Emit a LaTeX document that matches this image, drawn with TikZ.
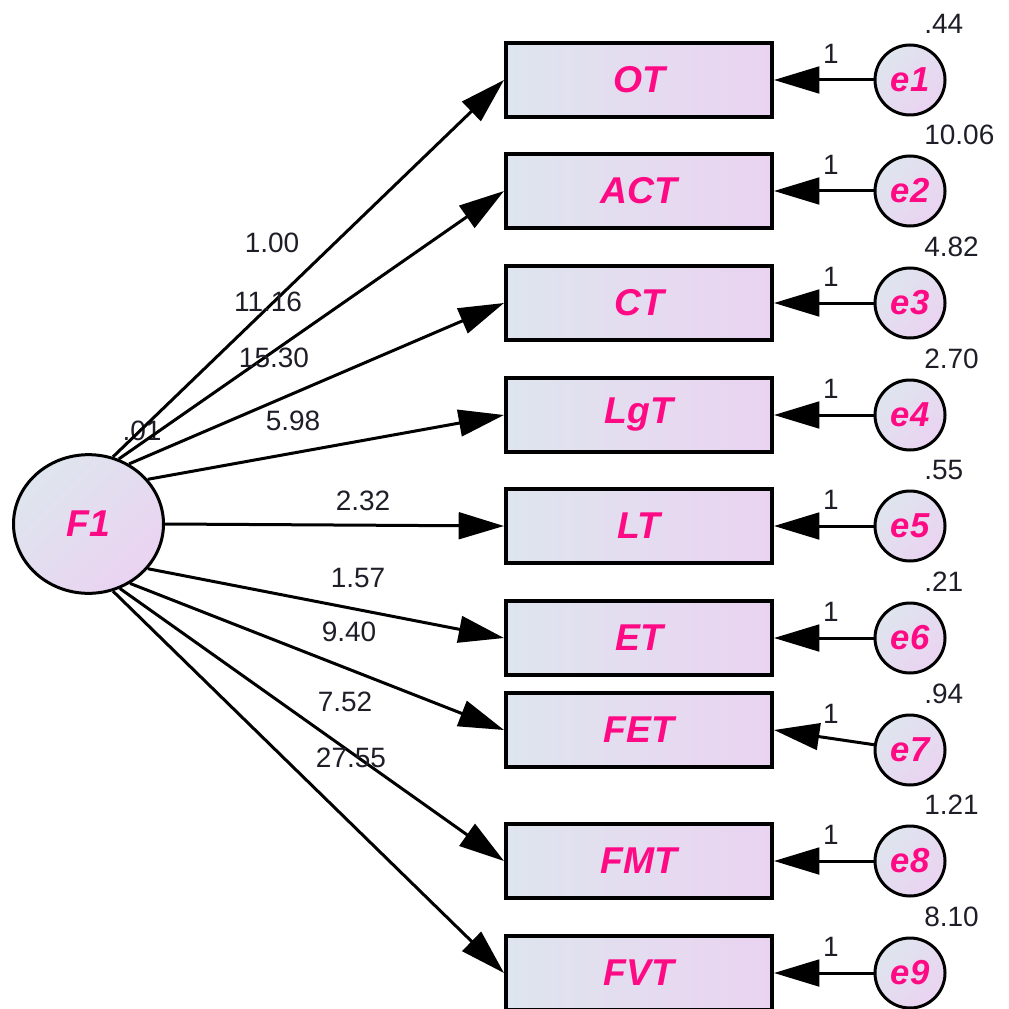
\documentclass[tikz,border=0pt]{standalone}
\usepackage{fontspec}
\setmainfont{Liberation Sans}
\usetikzlibrary{arrows.meta,shapes.geometric}
\definecolor{namepink}{HTML}{FF0A85}
\definecolor{fillleft}{HTML}{DEE5EE}
\definecolor{fillright}{HTML}{EAD3F1}
\definecolor{numcol}{HTML}{1E1E28}
\begin{document}
\begin{tikzpicture}[x=0.75pt,y=-0.75pt,
  obsbox/.style={rectangle, draw=black, line width=3pt,
    minimum width=199.5pt, minimum height=55.5pt, inner sep=0pt,
    left color=fillleft, right color=fillright,
    text=namepink, font=\fontsize{28}{30}\selectfont\bfseries\itshape},
  errcirc/.style={circle, draw=black, line width=2.25pt,
    minimum size=52.5pt, inner sep=0pt,
    top color=fillleft, bottom color=fillright, shading angle=45,
    text=namepink, font=\fontsize{26}{28}\selectfont\bfseries\itshape},
  latent/.style={ellipse, draw=black, line width=2.25pt,
    minimum width=112.5pt, minimum height=104pt, inner sep=0pt,
    top color=fillleft, bottom color=fillright, shading angle=45,
    text=namepink, font=\fontsize{28}{30}\selectfont\bfseries\itshape},
  numlab/.style={text=numcol, inner sep=0pt, font=\fontsize{21}{24}\selectfont},
  path arrow/.style={line width=2.25pt, -{Triangle[length=34pt,width=20pt]}}
]
\useasboundingbox (0,0) rectangle (1008,1009);

% latent factor
\node[latent] (F1) at (88.5,524) {F1};
\node[numlab] (vF1) at (142,431) {.01};

% observed indicators, their error terms and loadings
% fields: index / name / row / loading / label x / label y / error variance / exit angle on F1
\foreach \i/\name/\y/\load/\lx/\ly/\var/\ang in {
  1/OT/80/1.00/272/243/.44/70.5,
  2/ACT/191/11.16/268/302/10.06/65.5,
  3/CT/303/15.30/274/358/4.82/56,
  4/LgT/415/5.98/293/421/2.70/37,
  5/LT/526/2.32/363/501/.55/0,
  6/ET/638/1.57/358/578/.21/-37,
  7/FET/730/9.40/349/632/.94/-55,
  8/FMT/861/7.52/345/702/1.21/-64.5,
  9/FVT/973/27.55/351/758/8.10/-70.5}{
  \node[obsbox] (b\i) at (639,\y) {\name};
  \ifnum\i=7
    \node[errcirc] (e\i) at (910,750) {e\i};
    \node[numlab, anchor=west] (v\i) at (924,694) {\var};
    \node[numlab] (w\i) at (831,714) {1};
  \else
    \node[errcirc] (e\i) at (910,\y) {e\i};
    \node[numlab, anchor=west] (v\i) at (924,\y-56) {\var};
    \node[numlab] (w\i) at (831,\y-26) {1};
  \fi
  \node[numlab] (l\i) at (\lx,\ly) {\load};
  \draw[path arrow] (F1.\ang) -- (b\i.west);
  \draw[path arrow] (e\i) -- (b\i.east);
}
\end{tikzpicture}
\end{document}
